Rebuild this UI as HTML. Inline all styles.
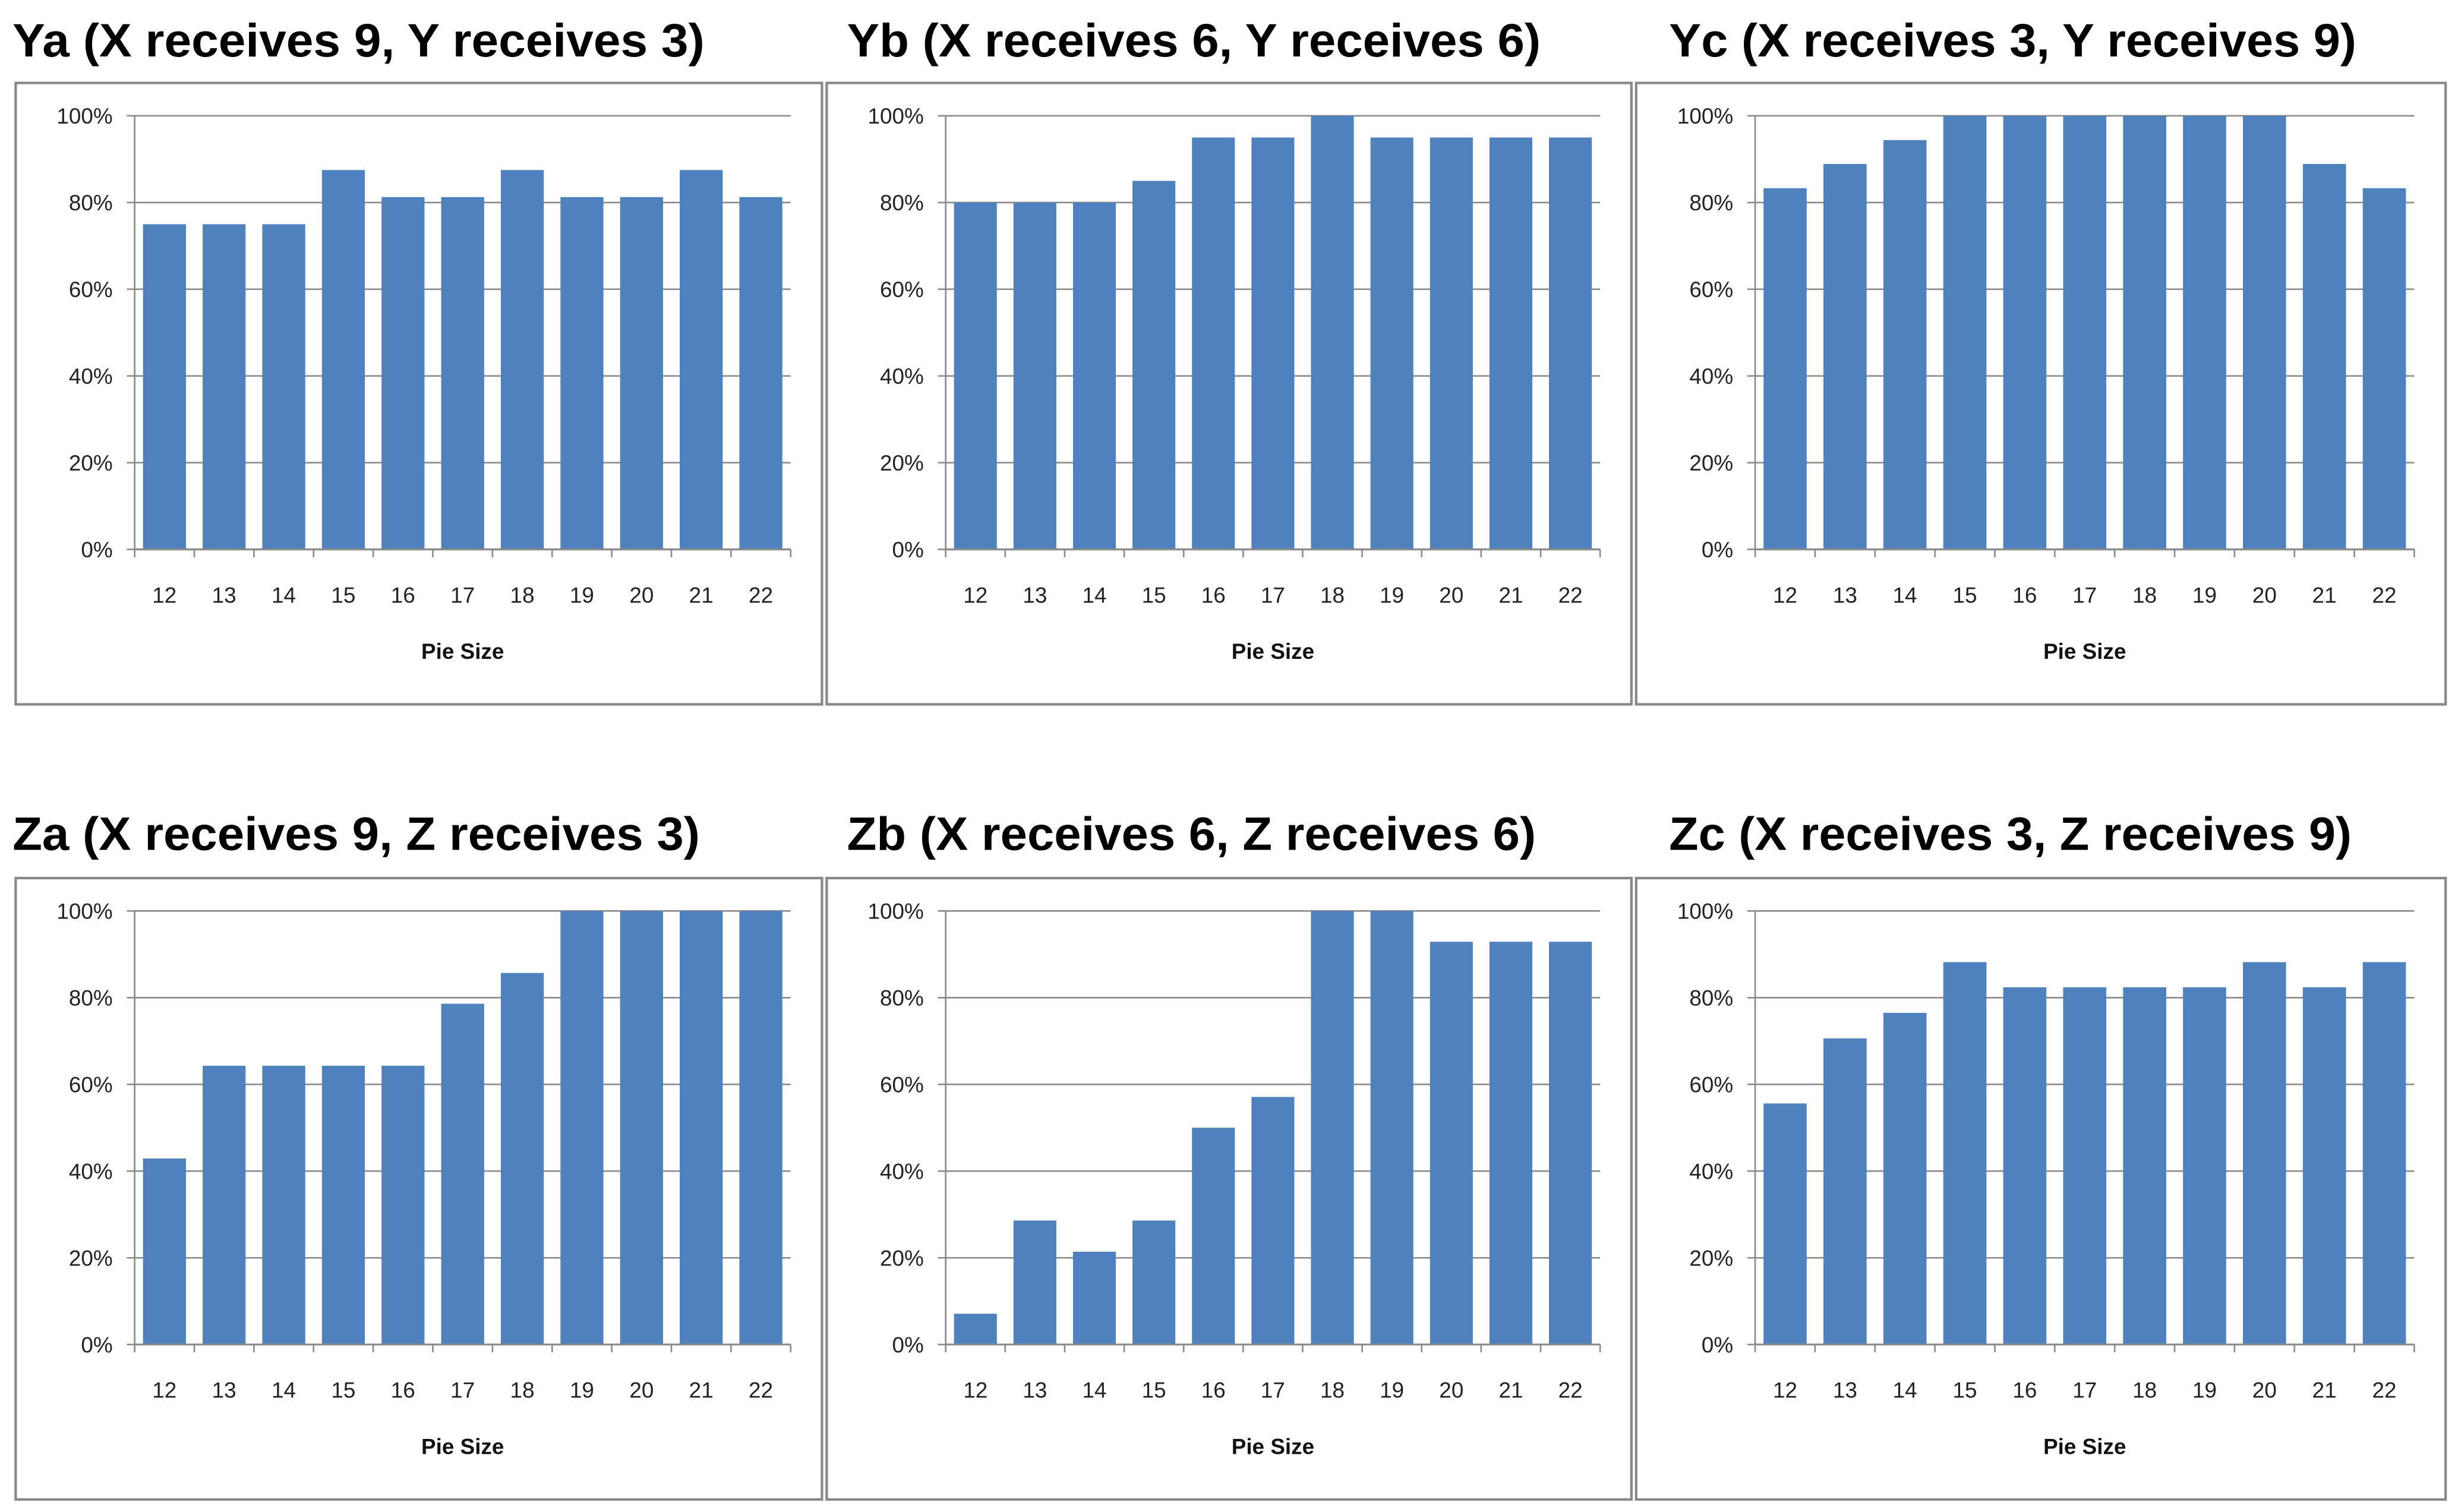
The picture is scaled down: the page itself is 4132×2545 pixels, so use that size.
<!DOCTYPE html>
<html><head><meta charset="utf-8">
<style>
html,body{margin:0;padding:0;background:#fff;}
svg{display:block;}
</style></head>
<body>
<svg id="chart" width="4132" height="2545" viewBox="0 0 1568 966" preserveAspectRatio="none" xmlns="http://www.w3.org/2000/svg"></svg>
<script>
const categories = ["12","13","14","15","16","17","18","19","20","21","22"];
const yTickValues = [0,20,40,60,80,100];
const yTickLabels = ["0%","20%","40%","60%","80%","100%"];
const titles = ["Ya (X receives 9, Y receives 3)","Yb (X receives 6, Y receives 6)","Yc (X receives 3, Y receives 9)","Za (X receives 9, Z receives 3)","Zb (X receives 6, Z receives 6)","Zc (X receives 3, Z receives 9)"];
const seriesYa = [75,75,75,87.5,81.25,81.25,87.5,81.25,81.25,87.5,81.25];
const seriesYb = [80,80,80,85,95,95,100,95,95,95,95];
const seriesYc = [83.3,88.9,94.4,100,100,100,100,100,100,88.9,83.3];
const seriesZa = [42.9,64.3,64.3,64.3,64.3,78.6,85.7,100,100,100,100];
const seriesZb = [7.1,28.6,21.4,28.6,50,57.1,100,100,92.9,92.9,92.9];
const seriesZc = [55.6,70.6,76.5,88.2,82.4,82.4,82.4,82.4,88.2,82.4,88.2];
const allSeries = [seriesYa,seriesYb,seriesYc,seriesZa,seriesZb,seriesZc];
const names = ["ya","yb","yc","za","zb","zc"];

const NS="http://www.w3.org/2000/svg";
const svg=document.getElementById('chart');
function mk(tag,attrs,parent){const e=document.createElementNS(NS,tag);for(const k in attrs)e.setAttribute(k,attrs[k]);(parent||svg).appendChild(e);return e;}

const boxLefts=[10,528,1045], boxRights=[525,1042,1562], boxTops=[53,561];
const titleX=[8,541,1066], titleW=[[442,443,439],[439,440,436]];
const titleBase=[36,543];

for(let p=0;p<6;p++){
  const r=Math.floor(p/3), c=p%3;
  const g=mk('g',{});
  
  
  const L=boxLefts[c], R=boxRights[c], T=boxTops[r], B=T+397;
  const t=mk('text',{x:titleX[c],y:titleBase[r],'font-family':'Liberation Sans, sans-serif','font-weight':'bold','font-size':30,textLength:titleW[r][c],lengthAdjust:'spacingAndGlyphs',fill:'#000'},g);
  t.textContent=titles[p];
  
  
  const box=mk('rect',{x:L,y:T,width:R-L,height:B-T,fill:'#fff',stroke:'#888',"stroke-width":1.6},g);
  
  
  const ax0=L+76, ax1=R-20, yTop=T+21, yBot=T+298;
  const yScale=v=>yBot-(v/100)*(yBot-yTop);
  const cw=(ax1-ax0)/categories.length;
  const xScale=i=>ax0+cw*i;
  yTickValues.forEach((v,i)=>{
    const y=yScale(v);
    const gl=mk('line',{x1:ax0-5,x2:ax1,y1:y,y2:y,stroke:'#8a8a8a','stroke-width':1},g);
    
    
    const tl=mk('text',{x:ax0-14,y:y+5,'text-anchor':'end','font-family':'Liberation Sans, sans-serif','font-size':14,fill:'#222'},g);
    tl.textContent=yTickLabels[i];
    
    
  });
  const data=allSeries[p];
  data.forEach((v,i)=>{
    const bw=cw*0.72;
    const x=xScale(i)+(cw-bw)/2;
    const b=mk('rect',{x:x,y:yScale(v),width:bw,height:yBot-yScale(v),fill:'#4f81bd'},g);
    
    
  });
  const ya=mk('line',{x1:ax0,x2:ax0,y1:yTop,y2:yBot,stroke:'#8a8a8a','stroke-width':1},g);
  
  
  const xa=mk('line',{x1:ax0,x2:ax1,y1:yBot,y2:yBot,stroke:'#8a8a8a','stroke-width':1.2},g);
  
  
  for(let i=0;i<=categories.length;i++){
    const tk=mk('line',{x1:xScale(i),x2:xScale(i),y1:yBot,y2:yBot+5,stroke:'#8a8a8a','stroke-width':1},g);
    
    
  }
  categories.forEach((cat,i)=>{
    const xl=mk('text',{x:xScale(i)+cw/2,y:T+332,'text-anchor':'middle','font-family':'Liberation Sans, sans-serif','font-size':14,fill:'#222'},g);
    xl.textContent=cat;
    
    
  });
  const xt=mk('text',{x:(ax0+ax1)/2,y:T+368,'text-anchor':'middle','font-family':'Liberation Sans, sans-serif','font-weight':'bold','font-size':14,fill:'#111'},g);
  xt.textContent='Pie Size';
  
  
}
</script>
</body></html>
